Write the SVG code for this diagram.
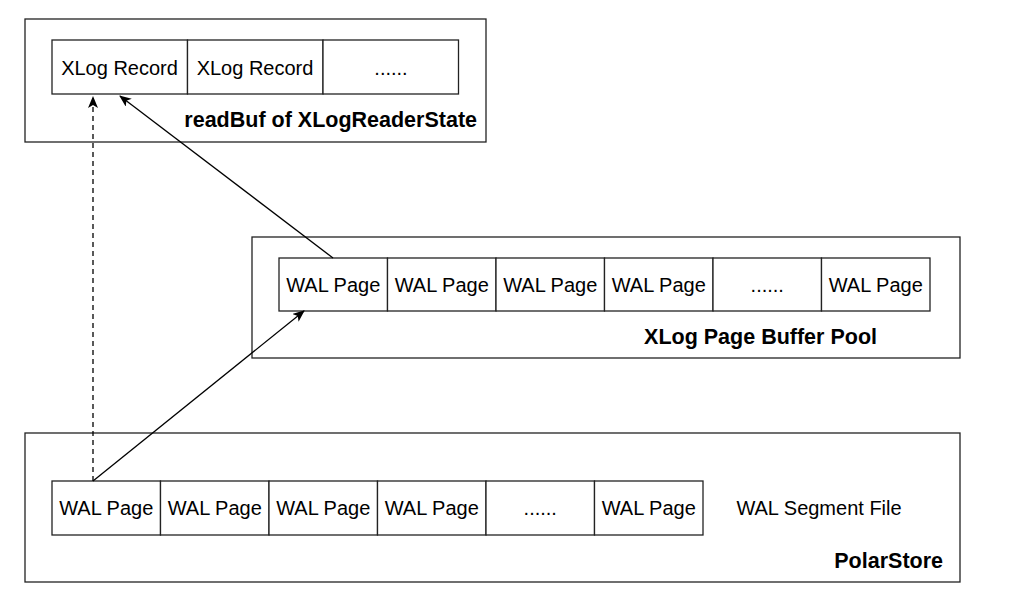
<svg xmlns="http://www.w3.org/2000/svg" width="1012" height="612" viewBox="0 0 1012 612">
<defs>
<style>
.box{fill:#fff;stroke:#222;stroke-width:1.3}
.cell{fill:#fff;stroke:#222;stroke-width:1.3}
.t{font-family:"Liberation Sans",Arial,Helvetica,sans-serif;font-size:20px;fill:#000;text-anchor:middle}
.b{font-family:"Liberation Sans",Arial,Helvetica,sans-serif;font-size:21.5px;font-weight:bold;fill:#000;text-anchor:end}
.l{fill:none;stroke:#000;stroke-width:1.3}
</style>
<marker id="arr" viewBox="0 0 12 10" refX="11" refY="5" markerWidth="12" markerHeight="10" markerUnits="userSpaceOnUse" orient="auto">
<path d="M0,0 L12,5 L0,10 L3,5 Z" fill="#000"/>
</marker>
</defs>
<rect width="1012" height="612" fill="#fff"/>
<g id="readbuf">
<rect class="box" x="25" y="19" width="461" height="123"/>
<rect class="cell" x="52" y="40" width="135.5" height="54"/>
<rect class="cell" x="187.5" y="40" width="135.5" height="54"/>
<rect class="cell" x="323" y="40" width="135.5" height="54"/>
<text class="t" x="119.5" y="75">XLog Record</text>
<text class="t" x="255" y="75">XLog Record</text>
<text class="t" x="391" y="75">......</text>
<text class="b" x="477" y="127">readBuf of XLogReaderState</text>
</g>
<g id="pagepool">
<rect class="box" x="252" y="237" width="708" height="121"/>
<rect class="cell" x="279" y="258" width="108.5" height="53"/>
<rect class="cell" x="387.5" y="258" width="108.5" height="53"/>
<rect class="cell" x="496" y="258" width="108.5" height="53"/>
<rect class="cell" x="604.5" y="258" width="108.5" height="53"/>
<rect class="cell" x="713" y="258" width="108.5" height="53"/>
<rect class="cell" x="821.5" y="258" width="108.5" height="53"/>
<text class="t" x="333.25" y="292">WAL Page</text>
<text class="t" x="441.75" y="292">WAL Page</text>
<text class="t" x="550.25" y="292">WAL Page</text>
<text class="t" x="658.75" y="292">WAL Page</text>
<text class="t" x="767.25" y="292">......</text>
<text class="t" x="875.75" y="292">WAL Page</text>
<text class="b" x="877" y="344">XLog Page Buffer Pool</text>
</g>
<g id="polarstore">
<rect class="box" x="25" y="433" width="935" height="149"/>
<rect class="cell" x="52" y="481" width="108.5" height="54"/>
<rect class="cell" x="160.5" y="481" width="108.5" height="54"/>
<rect class="cell" x="269" y="481" width="108.5" height="54"/>
<rect class="cell" x="377.5" y="481" width="108.5" height="54"/>
<rect class="cell" x="486" y="481" width="108.5" height="54"/>
<rect class="cell" x="594.5" y="481" width="108.5" height="54"/>
<text class="t" x="106.25" y="515">WAL Page</text>
<text class="t" x="214.75" y="515">WAL Page</text>
<text class="t" x="323.25" y="515">WAL Page</text>
<text class="t" x="431.75" y="515">WAL Page</text>
<text class="t" x="540.25" y="515">......</text>
<text class="t" x="648.75" y="515">WAL Page</text>
<text class="t" x="819" y="515">WAL Segment File</text>
<text class="b" x="943" y="568">PolarStore</text>
</g>
<g id="connectors">
<path class="l" d="M93,481 L93,97" stroke-dasharray="5,4" marker-end="url(#arr)"/>
<path class="l" d="M93,481 L304,311" marker-end="url(#arr)"/>
<path class="l" d="M333,258 L120,96" marker-end="url(#arr)"/>
</g>
</svg>
